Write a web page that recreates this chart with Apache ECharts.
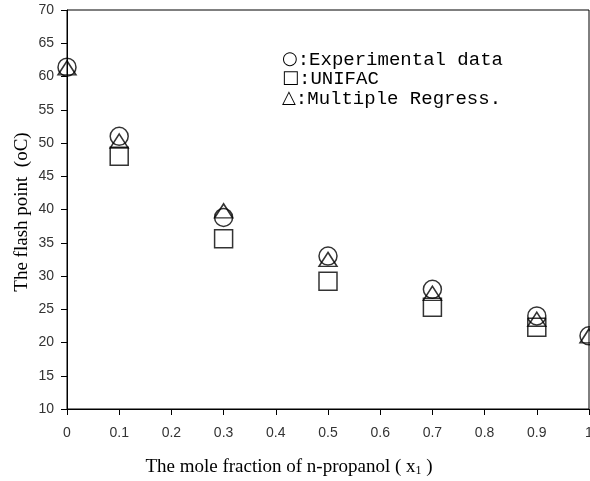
<!DOCTYPE html>
<html>
<head>
<meta charset="utf-8">
<script src="https://cdn.jsdelivr.net/npm/echarts@6/dist/echarts.min.js"></script>
<style>html,body{margin:0;padding:0;background:#fff;}#c{width:590px;height:481px;}</style>
</head>
<body>
<div id="c"></div>
<script>
var xTicks = [0, 0.1, 0.2, 0.3, 0.4, 0.5, 0.6, 0.7, 0.8, 0.9, 1];
var expX = [0, 0.1, 0.3, 0.5, 0.7, 0.9, 1];
var expY = [61.4, 51.0, 38.8, 33.0, 28.0, 24.0, 21.0];
var unifacX = [0.1, 0.3, 0.5, 0.7, 0.9];
var unifacY = [48.0, 35.6, 29.2, 25.3, 22.3];
var mrX = [0, 0.1, 0.3, 0.5, 0.7, 0.9, 1];
var mrY = [61.3, 50.3, 39.8, 32.5, 27.4, 23.5, 21.0];
var legendLabels = ['Experimental data', 'UNIFAC', 'Multiple Regress.'];
var legendSymbols = ['○', '□', '△'];

function pairs(xs, ys) { return xs.map(function (x, i) { return [x, ys[i]]; }); }

var chart = echarts.init(document.getElementById('c'), null, {renderer: 'canvas'});
var mk = {color: 'rgba(0,0,0,0)', borderColor: '#000', borderWidth: 1.5};
var tickFont = {fontFamily: 'Liberation Sans', fontSize: 14, color: '#333'};
var legendTops = [50, 69, 89];
var legendGraphics = legendLabels.map(function (lab, i) {
  return {type: 'text', left: 282, top: legendTops[i], style: {
    text: '{s|' + legendSymbols[i] + '}{t|:' + lab + '}',
    rich: {
      s: {fontFamily: 'DejaVu Sans', fontSize: 18, color: '#000', verticalAlign: 'middle'},
      t: {fontFamily: 'Liberation Mono', fontSize: 19, color: '#000', verticalAlign: 'middle'}
    }
  }};
});
chart.setOption({
  animation: false,
  backgroundColor: '#fff',
  grid: {left: 67, right: 1, top: 10, bottom: 72, containLabel: false, outerBoundsMode: 'none',
    show: true, borderColor: '#000', borderWidth: 1, backgroundColor: 'rgba(0,0,0,0)'},
  xAxis: {
    type: 'value', min: 0, max: 1, interval: 0.1,
    axisLine: {show: true, onZero: false, lineStyle: {color: '#000', width: 1}},
    axisTick: {show: true, length: 6, lineStyle: {color: '#000'}},
    axisLabel: Object.assign({margin: 17, showMaxLabel: true, showMinLabel: true, hideOverlap: false,
      formatter: function (v) { return String(Math.round(v * 10) / 10); }}, tickFont),
    splitLine: {show: false}
  },
  yAxis: {
    type: 'value', min: 10, max: 70, interval: 5,
    axisLine: {show: true, lineStyle: {color: '#000', width: 1}},
    axisTick: {show: true, length: 6, lineStyle: {color: '#000'}},
    axisLabel: Object.assign({margin: 13}, tickFont),
    splitLine: {show: false}
  },
  series: [
    {name: 'Experimental data', type: 'scatter', clip: false, symbol: 'circle', symbolSize: 18, itemStyle: mk, data: pairs(expX, expY), z: 3},
    {name: 'UNIFAC', type: 'scatter', clip: false, symbol: 'rect', symbolSize: 18, itemStyle: mk, data: pairs(unifacX, unifacY), z: 4},
    {name: 'Multiple Regress.', type: 'scatter', clip: false, symbol: 'triangle', symbolSize: [18, 14], itemStyle: mk, data: pairs(mrX, mrY), z: 5}
  ],
  graphic: legendGraphics.concat([
    {type: 'text', x: 289, y: 467, style: {
      text: '{a|The mole fraction of n-propanol ( x}{s|1}{a| )}',
      align: 'center', verticalAlign: 'middle',
      rich: {a: {fontFamily: 'Liberation Serif', fontSize: 19, color: '#000'},
             s: {fontFamily: 'Liberation Serif', fontSize: 12, color: '#000', padding: [8, 0, 0, 0]}}
    }},
    {type: 'text', x: 22, y: 212, rotation: Math.PI / 2, style: {
      text: 'The flash point  (oC)', align: 'center', verticalAlign: 'middle',
      font: '19px "Liberation Serif"', fill: '#000'
    }}
  ])
});
</script>
</body>
</html>
